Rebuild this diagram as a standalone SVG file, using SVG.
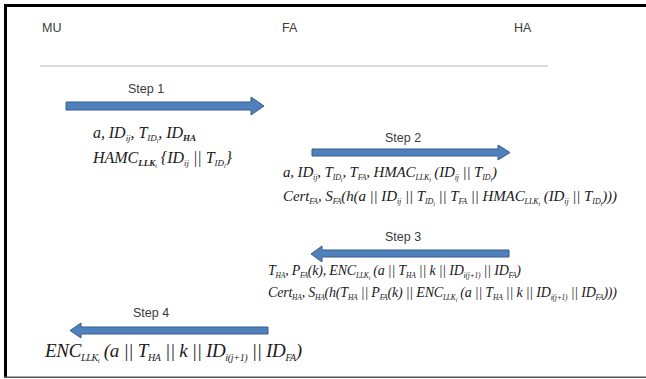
<svg xmlns="http://www.w3.org/2000/svg" width="646" height="379" viewBox="0 0 646 379">
<style>
.lbl{font-family:"Liberation Sans","DejaVu Sans",sans-serif;font-size:12.5px;fill:#3a3a3a}
.f{font-family:"Liberation Serif","Times New Roman",serif;font-style:italic;fill:#1a1a1a}
.arrow{fill:#4F81BD;stroke:#385D8A;stroke-width:1}
</style>
<rect x="0" y="0" width="646" height="379" fill="#ffffff"/>
<g id="frame">
<rect x="4" y="4" width="642" height="3" fill="#000"/>
<rect x="4" y="4" width="3" height="374" fill="#000"/>
<rect x="4" y="376.5" width="642" height="1.5" fill="#555"/>
</g>
<g id="MU"><text class="lbl" x="42" y="32">MU</text></g>
<g id="FA"><text class="lbl" x="282" y="32">FA</text></g>
<g id="HA"><text class="lbl" x="514" y="32">HA</text></g>
<line x1="40" y1="66" x2="548" y2="66" stroke="#d9dce0" stroke-width="2"/>
<g id="connectors">
<g id="step1">
<text class="lbl" x="128" y="93">Step 1</text>
<polygon class="arrow" points="66,102 251,102 251,97 264,106 251,115 251,110 66,110"/>
</g>
<g id="step2">
<text class="lbl" x="385" y="142">Step 2</text>
<polygon class="arrow" points="312,149 498,149 498,145 510,152.5 498,160 498,156 312,156"/>
</g>
<g id="step3">
<text class="lbl" x="385" y="241">Step 3</text>
<polygon class="arrow" points="509,250 322,250 322,246 311,254 322,262 322,257 509,257"/>
</g>
<g id="step4">
<text class="lbl" x="133" y="317">Step 4</text>
<polygon class="arrow" points="268,327 81,327 81,323 70,330.5 81,338 81,334 268,334"/>
</g>
</g>
<g id="msg1">
<text class="f" x="93" y="138" font-size="16" textLength="103">a, ID<tspan dy="3" font-size="9">ij</tspan><tspan dy="-3">, T</tspan><tspan dy="3" font-size="9">ID</tspan><tspan dy="2" font-size="6">i</tspan><tspan dy="-5">, ID</tspan><tspan dy="3" font-size="9" font-weight="bold">HA</tspan></text>
<text class="f" x="93" y="163" font-size="16" textLength="139">HAMC<tspan dy="3" font-size="9" font-weight="bold">LLK</tspan><tspan dy="2" font-size="6">i</tspan><tspan dy="-5"> {ID</tspan><tspan dy="3" font-size="9">ij</tspan><tspan dy="-3"> || T</tspan><tspan dy="3" font-size="9">ID</tspan><tspan dy="2" font-size="6">i</tspan><tspan dy="-5">}</tspan></text>
</g>
<g id="msg2">
<text class="f" x="283" y="177" font-size="15" textLength="214">a, ID<tspan dy="3" font-size="8">ij</tspan><tspan dy="-3">, T</tspan><tspan dy="3" font-size="8">ID</tspan><tspan dy="2" font-size="6">i</tspan><tspan dy="-5">, T</tspan><tspan dy="3" font-size="8">FA</tspan><tspan dy="-3">, HMAC</tspan><tspan dy="3" font-size="8">LLK</tspan><tspan dy="2" font-size="6">i</tspan><tspan dy="-5"> (ID</tspan><tspan dy="3" font-size="8">ij</tspan><tspan dy="-3"> || T</tspan><tspan dy="3" font-size="8">ID</tspan><tspan dy="2" font-size="6">i</tspan><tspan dy="-5">)</tspan></text>
<text class="f" x="283" y="201" font-size="15" textLength="334">Cert<tspan dy="3" font-size="8">FA</tspan><tspan dy="-3">, S</tspan><tspan dy="3" font-size="8">FA</tspan><tspan dy="-3">(h(a || ID</tspan><tspan dy="3" font-size="8">ij</tspan><tspan dy="-3"> || T</tspan><tspan dy="3" font-size="8">ID</tspan><tspan dy="2" font-size="6">i</tspan><tspan dy="-5"> || T</tspan><tspan dy="3" font-size="8">FA</tspan><tspan dy="-3"> || HMAC</tspan><tspan dy="3" font-size="8">LLK</tspan><tspan dy="2" font-size="6">i</tspan><tspan dy="-5"> (ID</tspan><tspan dy="3" font-size="8">ij</tspan><tspan dy="-3"> || T</tspan><tspan dy="3" font-size="8">ID</tspan><tspan dy="2" font-size="6">i</tspan><tspan dy="-5">)))</tspan></text>
</g>
<g id="msg3">
<text class="f" x="268" y="275" font-size="14" textLength="253">T<tspan dy="3" font-size="7.5">HA</tspan><tspan dy="-3">, P</tspan><tspan dy="3" font-size="7.5">FA</tspan><tspan dy="-3">(k), ENC</tspan><tspan dy="3" font-size="7.5">LLK</tspan><tspan dy="2" font-size="5.5">i</tspan><tspan dy="-5"> (a || T</tspan><tspan dy="3" font-size="7.5">HA</tspan><tspan dy="-3"> || k || ID</tspan><tspan dy="3" font-size="7.5">i(j+1)</tspan><tspan dy="-3"> || ID</tspan><tspan dy="3" font-size="7.5">FA</tspan><tspan dy="-3">)</tspan></text>
<text class="f" x="268" y="297" font-size="14" textLength="349">Cert<tspan dy="3" font-size="7.5">HA</tspan><tspan dy="-3">, S</tspan><tspan dy="3" font-size="7.5">HA</tspan><tspan dy="-3">(h(T</tspan><tspan dy="3" font-size="7.5">HA</tspan><tspan dy="-3"> || P</tspan><tspan dy="3" font-size="7.5">FA</tspan><tspan dy="-3">(k) || ENC</tspan><tspan dy="3" font-size="7.5">LLK</tspan><tspan dy="2" font-size="5.5">i</tspan><tspan dy="-5"> (a || T</tspan><tspan dy="3" font-size="7.5">HA</tspan><tspan dy="-3"> || k || ID</tspan><tspan dy="3" font-size="7.5">i(j+1)</tspan><tspan dy="-3"> || ID</tspan><tspan dy="3" font-size="7.5">FA</tspan><tspan dy="-3">)))</tspan></text>
</g>
<g id="msg4">
<text class="f" x="45" y="357" font-size="19" textLength="257">ENC<tspan dy="4" font-size="10">LLK</tspan><tspan dy="2" font-size="7">i</tspan><tspan dy="-6"> (a || T</tspan><tspan dy="4" font-size="10">HA</tspan><tspan dy="-4"> || k || ID</tspan><tspan dy="4" font-size="10">i(j+1)</tspan><tspan dy="-4"> || ID</tspan><tspan dy="4" font-size="10">FA</tspan><tspan dy="-4">)</tspan></text>
</g>
</svg>
